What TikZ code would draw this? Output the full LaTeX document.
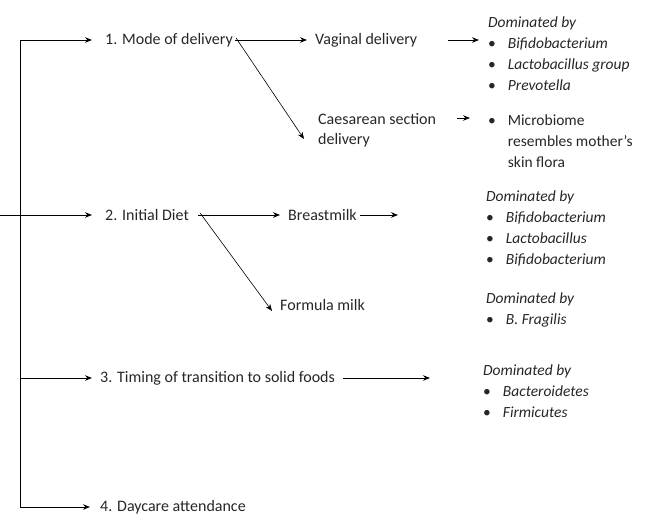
\documentclass[tikz,border=0pt]{standalone}
\usepackage{fontspec}
\setmainfont{Carlito}
\usepackage{array}
\usetikzlibrary{arrows.meta}

\tikzset{
  lbl/.style={anchor=west, inner sep=0pt, font=\fontsize{16}{20}\selectfont, text=black!85},
  lst/.style={anchor=north west, inner sep=0pt, font=\fontsize{15.5}{19}\selectfont, text=black!85},
  arr/.style={-{Stealth[length=7pt,width=5.5pt]}, line width=0.9pt},
  thin arr/.style={-{Stealth[length=7pt,width=5.5pt]}, line width=0.6pt},
}
\renewcommand{\arraystretch}{1.12}

\begin{document}
\begin{tikzpicture}[x=1pt,y=-1pt]
    \useasboundingbox (0,0) rectangle (654,529);

    % trunk on the left
    \coordinate (top) at (20,40);
    \coordinate (bot) at (20,507);
    \coordinate (in) at (0,215);
    \draw[line width=0.9pt] (in) -- (20,215);
    \draw[line width=0.9pt] (top) -- (bot);

    % factors
    \node[lbl] (mode) at (105,40) {1. Mode of delivery};
    \node[lbl] (diet) at (105,215) {2. Initial Diet};
    \node[lbl] (timing) at (100,378) {3. Timing of transition to solid foods};
    \node[lbl] (daycare) at (100,507) {4. Daycare attendance};

    \draw[arr] (top) -- ([xshift=-13pt]mode.west);
    \draw[arr] (20,215) -- ([xshift=-13pt]diet.west);
    \draw[arr] (20,378) -- ([xshift=-8pt]timing.west);
    \draw[arr] (bot) -- ([xshift=-10pt]daycare.west);

    % sub factors
    \node[lbl] (vag) at (315,40) {Vaginal delivery};
    \node[lbl, align=left] (caes) at (318,130) {Caesarean section\\delivery};
    \node[lbl] (breast) at (288,215) {Breastmilk};
    \node[lbl] (formula) at (280,305) {Formula milk};

    \draw[arr] ([xshift=2pt]mode.east) -- ([xshift=-8pt]vag.west);
    \draw[thin arr] ([xshift=3pt,yshift=2pt]mode.east) -- ([xshift=-14pt,yshift=-9pt]caes.west);
    \draw[thin arr] ([xshift=9pt]diet.east) -- ([xshift=-8pt]breast.west);
    \draw[thin arr] ([xshift=11pt,yshift=2pt]diet.east) -- ([xshift=-8pt,yshift=-6pt]formula.west);

    % microbiota
    \node[lst] (vagmic) at (488,12) {\begin{tabular}{@{}l@{\hspace{12pt}}l@{}}
      \multicolumn{2}{@{}l@{}}{\textit{Dominated by}}\\
      • & \textit{Bifidobacterium}\\
      • & \textit{Lactobacillus group}\\
      • & \textit{Prevotella}
    \end{tabular}};
    \node[lst] (caesmic) at (488,110) {\begin{tabular}{@{}l@{\hspace{12pt}}l@{}}
      • & Microbiome\\
        & resembles mother's\\
        & skin flora
    \end{tabular}};
    \node[lst] (breastmic) at (486,186) {\begin{tabular}{@{}l@{\hspace{12pt}}l@{}}
      \multicolumn{2}{@{}l@{}}{\textit{Dominated by}}\\
      • & \textit{Bifidobacterium}\\
      • & \textit{Lactobacillus}\\
      • & \textit{Bifidobacterium}
    \end{tabular}};
    \node[lst] (formmic) at (486,288) {\begin{tabular}{@{}l@{\hspace{12pt}}l@{}}
      \multicolumn{2}{@{}l@{}}{\textit{Dominated by}}\\
      • & \textit{B. Fragilis}
    \end{tabular}};
    \node[lst] (timingmic) at (483,360) {\begin{tabular}{@{}l@{\hspace{12pt}}l@{}}
      \multicolumn{2}{@{}l@{}}{\textit{Dominated by}}\\
      • & \textit{Bacteroidetes}\\
      • & \textit{Firmicutes}
    \end{tabular}};

    \coordinate (vagend) at (479,40);
    \coordinate (caesend) at (470,118);
    \coordinate (breastend) at (398,215);
    \coordinate (timingend) at (430,378);
    \draw[arr] (448,40) -- (vagend);
    \draw[arr] (457,118) -- (caesend);
    \draw[arr] ([xshift=3pt]breast.east) -- (breastend);
    \draw[arr] ([xshift=8pt]timing.east) -- (timingend);
\end{tikzpicture}
\end{document}
